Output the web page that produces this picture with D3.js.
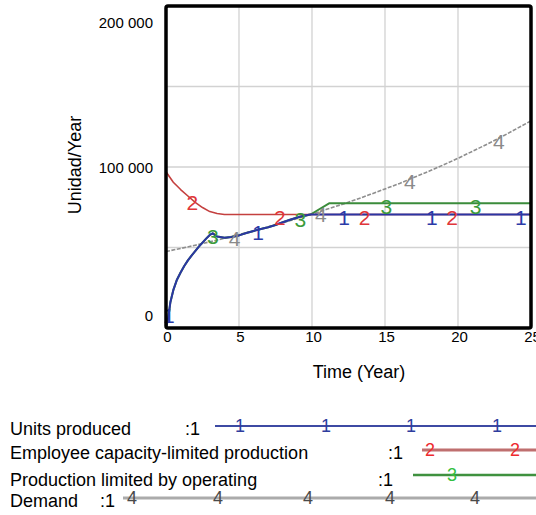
<!DOCTYPE html>
<html><head><meta charset="utf-8">
<script src="https://cdn.jsdelivr.net/npm/d3@7"></script>
<style>
html,body{margin:0;padding:0;background:#fff;overflow:hidden;}
svg{display:block;font-family:"Liberation Sans",Arial,Helvetica,sans-serif;}
</style></head>
<body>
<svg id="c" width="536" height="515"></svg>
<script>
// ---- data ----
const xTicks = [0, 5, 10, 15, 20, 25];
const yTicks = [0, 100000, 200000];
const yTickLabels = ["0", "100 000", "200 000"];
const xGrid = [5, 10, 15, 20];
const yGrid = [50000, 100000, 150000];

const unitsTime  = [0, 0.15, 0.3, 0.5, 0.75, 1, 1.25, 1.5, 1.75, 2, 2.25, 2.5, 2.75, 3, 3.2, 3.5, 4, 4.5, 5, 5.5, 6, 6.5, 7, 7.5, 8, 8.5, 9, 9.5, 9.9, 25];
const unitsValue = [0, 6000, 16000, 23500, 30000, 34500, 38500, 42000, 45000, 47800, 50500, 53000, 55500, 57800, 58800, 56800, 56000, 56500, 57500, 59000, 60300, 61500, 62600, 64000, 65700, 67200, 68600, 69900, 70500, 70500];

const employeeTime  = [0, 0.5, 1, 1.5, 2, 2.5, 3, 3.5, 4, 25];
const employeeValue = [97000, 90500, 86000, 82000, 78000, 74800, 72300, 71100, 70500, 70500];

const operatingTime  = [0, 0.15, 0.3, 0.5, 0.75, 1, 1.25, 1.5, 1.75, 2, 2.25, 2.5, 2.75, 3, 3.2, 3.5, 4, 4.5, 5, 5.5, 6, 6.5, 7, 7.5, 8, 8.5, 9, 9.5, 9.9, 11.2, 25];
const operatingValue = [0, 6000, 16000, 23500, 30000, 34500, 38500, 42000, 45000, 47800, 50500, 53000, 55500, 57800, 58800, 56800, 56000, 56500, 57500, 59000, 60300, 61500, 62600, 64000, 65700, 67200, 68600, 69900, 70500, 77500, 77500];

const demandTime  = [0, 1, 2, 3, 4, 5, 6, 7, 8, 9, 10, 11, 12, 13, 14, 15, 16, 17, 18, 19, 20, 21, 22, 23, 24, 25];
const demandValue = [47500, 49400, 51400, 53500, 55700, 58000, 60300, 62800, 65400, 68000, 70700, 73700, 76600, 79700, 83000, 86400, 89800, 93600, 97300, 101300, 105400, 109800, 114200, 118800, 123700, 128700];

const seriesNames = ["Units produced", "Employee capacity-limited production", "Production limited by operating", "Demand"];
const markerTimes = [
  [0.2, 6.3, 12.2, 18.2, 24.3],
  [1.8, 7.8, 13.6, 19.6],
  [3.2, 9.2, 15.1, 21.2],
  [4.7, 10.6, 16.7, 22.8]
];

// ---- styles ----
const lineColors   = ["#2b36a3", "#c4403f", "#3b8c3b", "#8e8e8e"];
const markerColors = ["#2b3aa8", "#e0363a", "#3b9b3b", "#8a8a8a"];
const legLineColors = ["#3d4aa3", "#bf6f6f", "#3f913f", "#ababab"];
const legMarkColors = ["#2e3d9e", "#ee2a2e", "#33c040", "#4a4a4a"];

const svg = d3.select("#c");
const L = 166, R = 531, T = 6, B = 328;
const x = d3.scaleLinear().domain([0, 25]).range([L, R]);
const y = d3.scaleLinear().domain([0, 200000]).range([B, T]);

svg.append("defs").append("clipPath").attr("id", "pc")
  .append("rect").attr("x", L).attr("y", T).attr("width", R - L).attr("height", B - T);

// grid
svg.append("g").selectAll("line").data(xGrid).join("line")
  .attr("x1", d => x(d)).attr("x2", d => x(d)).attr("y1", T).attr("y2", B)
  .attr("stroke", "#d2d2d2").attr("stroke-width", 1.3);
svg.append("g").selectAll("line").data(yGrid).join("line")
  .attr("y1", d => y(d)).attr("y2", d => y(d)).attr("x1", L).attr("x2", R)
  .attr("stroke", "#d2d2d2").attr("stroke-width", 1.3);

const series = [
  {t: unitsTime, v: unitsValue},
  {t: employeeTime, v: employeeValue},
  {t: operatingTime, v: operatingValue},
  {t: demandTime, v: demandValue}
];
const interp = (s, tt) => {
  for (let i = 0; i < s.t.length - 1; i++) {
    if (tt >= s.t[i] && tt <= s.t[i + 1]) {
      const f = (tt - s.t[i]) / (s.t[i + 1] - s.t[i]);
      return s.v[i] + f * (s.v[i + 1] - s.v[i]);
    }
  }
  return s.v[s.v.length - 1];
};
const line = d3.line().x(d => x(d[0])).y(d => y(d[1]));
const plotG = svg.append("g").attr("clip-path", "url(#pc)");
const markG = svg.append("g");
const widths = [2, 1.6, 2, 1.6];
[3, 2, 1, 0].forEach(i => {
  const s = series[i];
  const pts = s.t.map((t, k) => [t, s.v[k]]);
  const p = plotG.append("path").attr("d", line(pts)).attr("fill", "none")
    .attr("stroke", lineColors[i]).attr("stroke-width", widths[i])
    .attr("stroke-linejoin", "round");
  if (i === 3) p.attr("stroke-dasharray", "4,1.5");
});
[3, 2, 1, 0].forEach(i => {
  markG.append("g").selectAll("text").data(markerTimes[i]).join("text")
    .attr("x", d => x(d)).attr("y", d => y(interp(series[i], d)) + 3)
    .attr("dy", "0.35em").attr("text-anchor", "middle")
    .attr("font-size", 21).attr("fill", markerColors[i]).text(String(i + 1));
});

// frame
svg.append("rect").attr("x", L).attr("y", T).attr("width", R - L).attr("height", B - T)
  .attr("fill", "none").attr("stroke", "#000").attr("stroke-width", 3.5).attr("rx", 2);

// y axis labels
const yOff = {0: -8, 100000: 5, 200000: 21};
const yAxis = d3.axisLeft(y).tickValues(yTicks).tickSize(0)
  .tickFormat((d, i) => yTickLabels[i]);
const gy = svg.append("g").attr("transform", `translate(153,0)`).call(yAxis);
gy.select(".domain").remove();
gy.selectAll(".tick text").attr("x", 0).attr("dy", null)
  .attr("y", d => yOff[d]).attr("font-size", 15).attr("fill", "#000")
  .attr("font-family", "Liberation Sans, Arial, sans-serif");

// x axis labels
const xAxis = d3.axisBottom(x).tickValues(xTicks).tickSize(0).tickFormat(d3.format("d"));
const gx = svg.append("g").attr("transform", `translate(1,0)`).call(xAxis);
gx.select(".domain").remove();
gx.selectAll(".tick text").attr("y", 342).attr("dy", null)
  .attr("font-size", 15).attr("fill", "#000")
  .attr("font-family", "Liberation Sans, Arial, sans-serif");

// axis titles
svg.append("text").attr("transform", "translate(81,165) rotate(-90)")
  .attr("text-anchor", "middle").attr("font-size", 18).text("Unidad/Year");
svg.append("text").attr("x", 359).attr("y", 378)
  .attr("text-anchor", "middle").attr("font-size", 18).text("Time (Year)");

// legend
const legTextY = [435, 459, 486, 507];
const legLineY = [426, 450, 475, 498];
const legColonX = [185, 388, 378, 100];
const legLineX0 = [215, 422, 413, 123];
const legMarkX = [[240, 326, 411, 497], [430, 515], [452], [132, 218, 308, 390, 475]];
const legLW = [2, 3, 2.5, 3];
seriesNames.forEach((n, i) => {
  svg.append("text").attr("x", 10).attr("y", legTextY[i]).attr("font-size", 18).text(n);
  svg.append("text").attr("x", legColonX[i]).attr("y", legTextY[i]).attr("font-size", 18).text(":1");
  svg.append("line").attr("x1", legLineX0[i]).attr("x2", 536)
    .attr("y1", legLineY[i]).attr("y2", legLineY[i])
    .attr("stroke", legLineColors[i]).attr("stroke-width", legLW[i]);
  svg.append("g").selectAll("text").data(legMarkX[i]).join("text")
    .attr("x", d => d).attr("y", legLineY[i]).attr("dy", "0.36em")
    .attr("text-anchor", "middle").attr("font-size", 18)
    .attr("fill", legMarkColors[i]).text(String(i + 1));
});
</script>
</body></html>
